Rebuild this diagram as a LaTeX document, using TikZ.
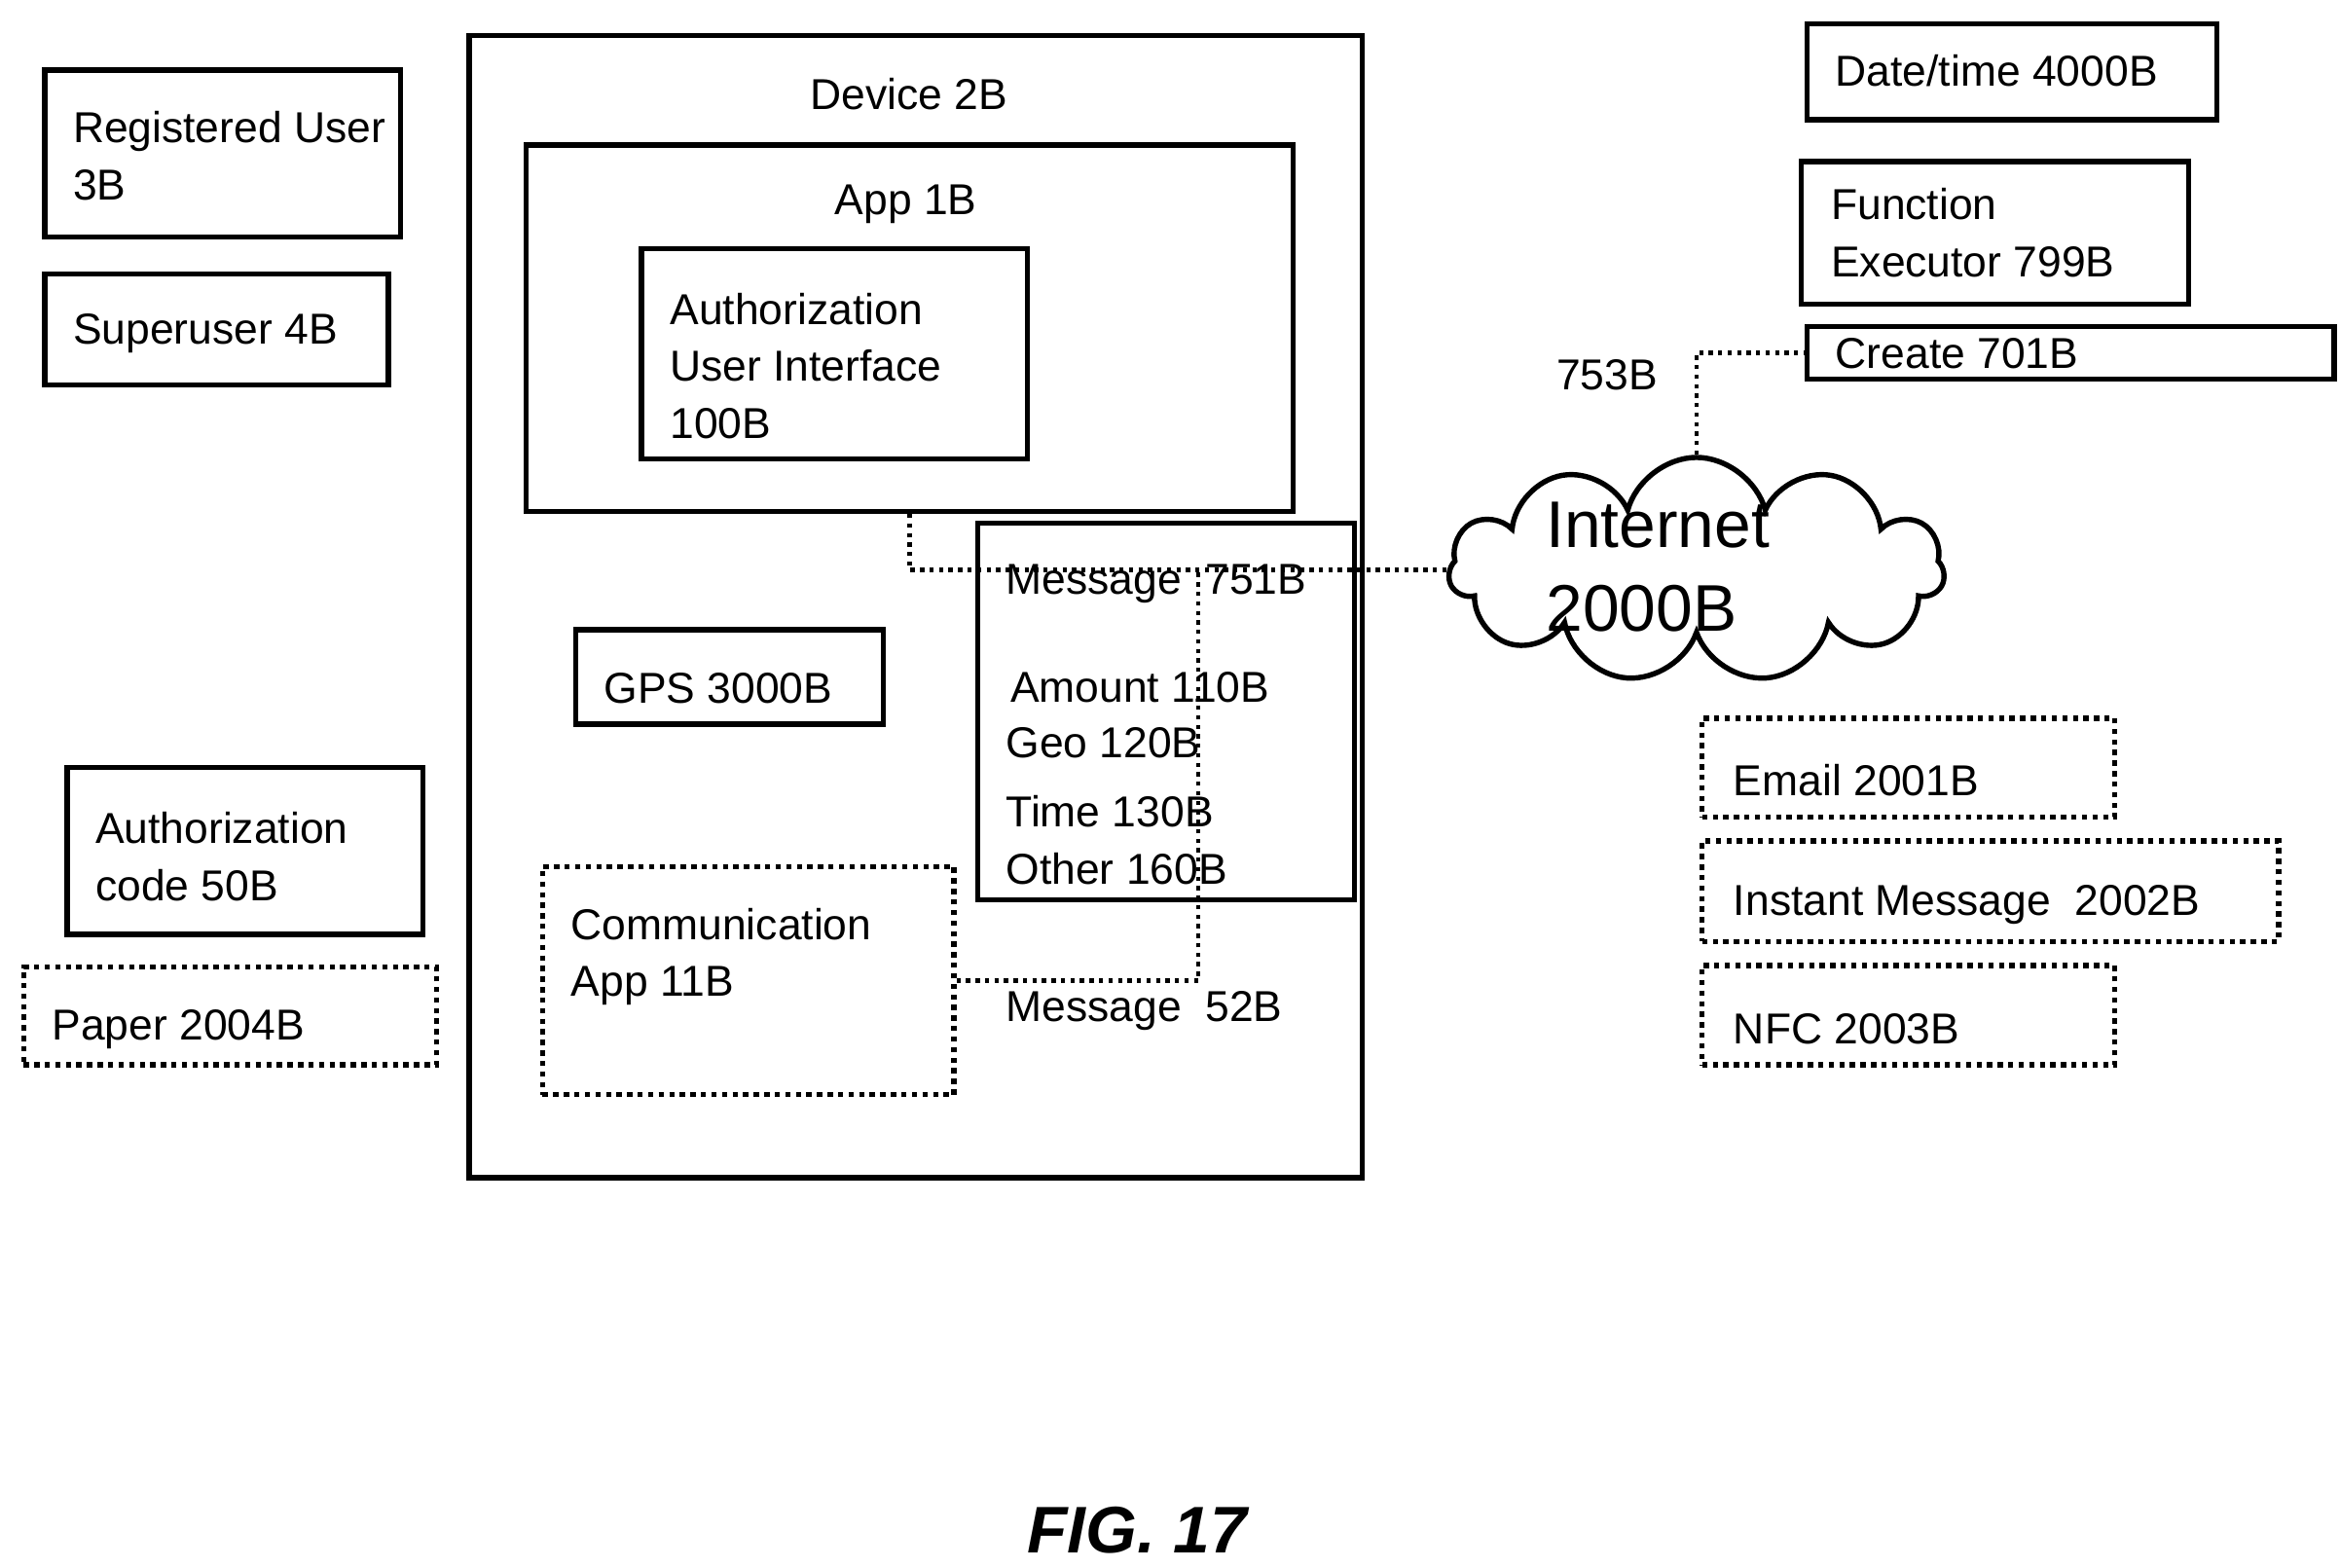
\documentclass[tikz,border=0pt]{standalone}
\usepackage{fontspec}
\setmainfont{Liberation Sans}
\usetikzlibrary{shapes.symbols, positioning}
\tikzset{
    box/.style={draw, line width=1pt, anchor=north west, inner sep=0pt},
    dbox/.style={draw, densely dotted, line width=1pt, anchor=north west, inner sep=0pt},
    lbl/.style={anchor=west, align=left, inner sep=0pt,
                font=\fontsize{8.2}{10.8}\selectfont},
    link/.style={densely dotted, line width=0.8pt}
}
\begin{document}
\begin{tikzpicture}[x=0.01cm, y=-0.01cm]
    \useasboundingbox (0,0) rectangle (1560,1045);

    % Left column
    \node[box, minimum width=2.37cm, minimum height=1.11cm] (reg) at (28,45) {};
    \node[lbl] (regt) at (48,104) {Registered User\\3B};
    \node[box, minimum width=2.29cm, minimum height=0.74cm] (sup) at (28,181) {};
    \node[lbl] (supt) at (48,222) {Superuser 4B};
    \node[box, minimum width=2.37cm, minimum height=1.11cm] (code) at (43,510) {};
    \node[lbl] (codet) at (63,571) {Authorization\\code 50B};
    \node[dbox, minimum width=2.75cm, minimum height=0.65cm] (paper) at (14,643) {};
    \node[lbl] (papert) at (34,686) {Paper 2004B};

    % Device
    \node[box, minimum width=5.95cm, minimum height=7.61cm] (dev) at (311,22) {};
    \node[lbl, anchor=center] (devt) at (606,63) {Device 2B};
    \node[box, minimum width=5.11cm, minimum height=2.44cm] (app) at (349,95) {};
    \node[lbl, anchor=center] (appt) at (604,136) {App 1B};
    \node[box, minimum width=2.57cm, minimum height=1.40cm] (aui) at (426,164) {};
    \node[lbl] (auit) at (446,244) {Authorization\\User Interface\\100B};
    \node[box, minimum width=2.05cm, minimum height=0.63cm] (gps) at (382,418) {};
    \node[lbl] (gpst) at (402,459) {GPS 3000B};
    \node[box, minimum width=2.51cm, minimum height=2.51cm] (msg) at (650,347) {};
    \node[lbl] (msgt) at (670,389) {Message~~751B};
    \node[lbl] (amt) at (673,458) {Amount 110B};
    \node[lbl] (geo) at (670,495) {Geo 120B};
    \node[lbl] (tim) at (670,541) {Time 130B};
    \node[lbl] (oth) at (670,579) {Other 160B};
    \node[dbox, minimum width=2.74cm, minimum height=1.52cm] (comm) at (360,576) {};
    \node[lbl] (commt) at (380,638) {Communication\\App 11B};
    \node[lbl] (m52) at (670,674) {Message~~52B};

    % Internet
    \node[cloud, draw, line width=1pt, cloud puffs=11, aspect=2.2,
          minimum width=3.3cm, minimum height=1.5cm] (net) at (1131,380) {};
    \node[lbl, font=\fontsize{12.5}{16}\selectfont] (nett) at (1030,378) {Internet\\2000B};
    \node[lbl] (l753) at (1037,250) {753B};

    % Right column
    \node[box, minimum width=2.73cm, minimum height=0.64cm] (date) at (1203,14) {};
    \node[lbl] (datet) at (1223,47) {Date/time 4000B};
    \node[box, minimum width=2.58cm, minimum height=0.95cm] (fex) at (1199,106) {};
    \node[lbl] (fext) at (1220,155) {Function\\Executor 799B};
    \node[box, minimum width=3.51cm, minimum height=0.35cm] (cre) at (1203,216) {};
    \node[lbl] (cret) at (1223,236) {Create 701B};
    \node[dbox, minimum width=2.75cm, minimum height=0.66cm] (mail) at (1133,477) {};
    \node[lbl] (mailt) at (1155,520) {Email 2001B};
    \node[dbox, minimum width=3.84cm, minimum height=0.67cm] (im) at (1133,559) {};
    \node[lbl] (imt) at (1155,603) {Instant Message~~2002B};
    \node[dbox, minimum width=2.75cm, minimum height=0.66cm] (nfc) at (1133,642) {};
    \node[lbl] (nfct) at (1155,686) {NFC 2003B};

    % Links
    \coordinate (j) at (799,379);
    \draw[link] (app.south) |- (net.west);
    \draw[link] (comm.east) -| (j);
    \draw[link] (net.north) |- (cre.west);

    \node[font=\fontsize{12.5}{15}\selectfont\bfseries\itshape] (fig) at (758,1020) {FIG. 17};
\end{tikzpicture}
\end{document}
